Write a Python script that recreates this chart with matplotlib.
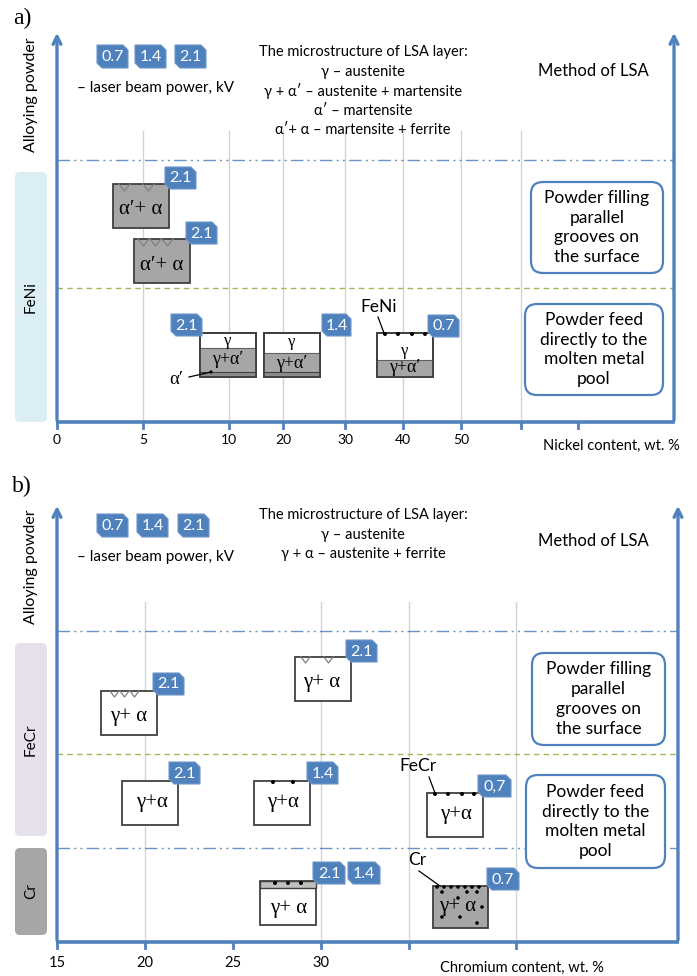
import matplotlib
matplotlib.use("Agg")
import matplotlib.pyplot as plt
from matplotlib.patches import Rectangle, Polygon, FancyBboxPatch, Circle

# ---------------- data ----------------
powers_legend = ["0.7", "1.4", "2.1"]
ni_tick_labels = ["0", "5", "10", "20", "30", "40", "50", "", ""]
cr_tick_labels = ["15", "20", "25", "30", "", ""]
micro_a = ["The microstructure of LSA layer:", "γ – austenite",
           "γ + α′ – austenite + martensite", "α′ – martensite",
           "α′+ α – martensite + ferrite"]
micro_b = ["The microstructure of LSA layer:", "γ – austenite",
           "γ + α – austenite + ferrite"]
method_boxes = ["Powder filling\nparallel\ngrooves on\nthe surface",
                "Powder feed\ndirectly to the\nmolten metal\npool"]
samples_a_phase = ["α′+ α", "α′+ α", "γ+α′", "γ+α′", "γ+α′"]
samples_a_power = ["2.1", "2.1", "2.1", "1.4", "0.7"]
samples_b_phase = ["γ+ α", "γ+ α", "γ+α", "γ+α", "γ+α", "γ+ α", "γ+ α"]
samples_b_power = ["2.1", "2.1", "2.1", "1.4", "0,7", "2.1", "0.7"]
extra_b_power = "1.4"

# ---------------- layout / style ----------------
BLUE = "#4F81BD"
GREEN = "#9BBB59"
GRAYF = "#A6A6A6"
EDGE = "#404040"
SANS = ["Lato", "DejaVu Sans"]
GREEK = ["Liberation Serif", "DejaVu Serif"]
MIX = ["Lato", "Liberation Serif", "DejaVu Sans"]

fig = plt.figure(figsize=(6.97, 9.76), dpi=100)
ax = fig.add_axes([0, 0, 1, 1])
ax.set_xlim(0, 697)
ax.set_ylim(976, 0)
ax.axis("off")


def badge(x0, y0, text, w=31, h=22):
    c = 5
    pts = [(x0, y0), (x0 + w - c, y0), (x0 + w, y0 + c), (x0 + w, y0 + h),
           (x0 + c, y0 + h), (x0, y0 + h - c)]
    ax.add_patch(Polygon(pts, closed=True, fc=BLUE, ec="#6F97CC", lw=0.8, zorder=6))
    ax.text(x0 + w / 2, y0 + h / 2 + 0.5, text, color="white", fontsize=11.5,
            family=SANS, ha="center", va="center", zorder=7)


def sbox(x0, y0, w=56, h=44, fc="white", zorder=4):
    ax.add_patch(Rectangle((x0, y0), w, h, fc=fc, ec=EDGE, lw=1.3, zorder=zorder))


def grooves(x0, y0, n, step=14, w=11, d=7):
    for i in range(n):
        xs = x0 + i * step
        ax.plot([xs, xs + w / 2, xs + w], [y0, y0 + d, y0], color="#808080", lw=0.9, zorder=5)


def dots(xs, y, r=2.0):
    for x in xs:
        ax.add_patch(Circle((x, y), r, fc="black", ec="none", zorder=6))


def method_box(x0, y0, x1, y1, text):
    ax.add_patch(FancyBboxPatch((x0, y0), x1 - x0, y1 - y0,
                                boxstyle="round,pad=0,rounding_size=12",
                                fc="white", ec=BLUE, lw=1.6, zorder=4))
    ax.text((x0 + x1) / 2, (y0 + y1) / 2, text, ha="center", va="center",
            fontsize=12.5, family=SANS, linespacing=1.3, zorder=5)


def frame(top, bottom, xl, xr, ticks, labels, grid_x, grid_top, lab_y, lab_fs):
    for gx in grid_x:
        ax.plot([gx, gx], [grid_top, bottom], color="#D3D3D3", lw=1.0, zorder=1)
    ax.annotate("", xy=(xl, top), xytext=(xl, bottom + 1),
                arrowprops=dict(arrowstyle="->", color=BLUE, lw=2.4, mutation_scale=14))
    ax.annotate("", xy=(xr, top), xytext=(xr, bottom + 1),
                arrowprops=dict(arrowstyle="->", color=BLUE, lw=2.4, mutation_scale=14))
    ax.plot([xl - 1, xr + 1], [bottom, bottom], color=BLUE, lw=2.6, zorder=3,
            solid_capstyle="butt")
    for tx, tl in zip(ticks, labels):
        ax.plot([tx, tx], [bottom, bottom + 6], color=BLUE, lw=2.0, zorder=3)
        if tl:
            ax.text(tx, lab_y, tl, ha="center", va="center", fontsize=lab_fs, family=SANS)


def hline(y, xl, xr, kind):
    if kind == "blue":
        ax.plot([xl, xr], [y, y], color=BLUE, lw=1.0, alpha=0.85,
                dashes=(9, 3, 1.5, 3, 1.5, 3), zorder=2)
    else:
        ax.plot([xl, xr], [y, y], color=GREEN, lw=1.0, dashes=(4, 3), zorder=2)


def side_label(x0, y0, y1, fc, text):
    ax.add_patch(FancyBboxPatch((x0, y0), 32, y1 - y0,
                                boxstyle="round,pad=0,rounding_size=5",
                                fc=fc, ec="none", zorder=1))
    ax.text(x0 + 16, (y0 + y1) / 2, text, rotation=90, ha="center", va="center",
            fontsize=11, family=SANS)


def header(y_badge, y_power, y_micro0, micro, y_method, xb):
    for p, x in zip(powers_legend, xb):
        badge(x, y_badge, p, w=31, h=23)
    ax.text(77, y_power, "– laser beam power, kV", ha="left", va="center",
            fontsize=11, family=SANS)
    for i, line in enumerate(micro):
        ax.text(363, y_micro0 + i * 19.6, line, ha="center", va="center",
                fontsize=10.5, family=MIX)
    ax.text(593, y_method, "Method of LSA", ha="center", va="center",
            fontsize=12, family=SANS)


# ================= panel a =================
ax.text(22, 18, "a)", fontsize=17, family=GREEK, ha="center", va="center")
ax.text(31, 95, "Alloying powder", rotation=90, ha="center", va="center",
        fontsize=11.5, family=SANS)
ni_ticks = [57, 143, 229, 283, 345, 403, 461, 521, 578]
frame(30, 422, 57, 674, ni_ticks, ni_tick_labels,
      [143, 229, 283, 345, 403, 461, 521], 131, 440, 10)
ax.text(543, 446, "Nickel content, wt. %", ha="left", va="center", fontsize=10.5, family=SANS)
hline(160, 57, 674, "blue")
hline(288, 57, 674, "green")
side_label(15, 172, 422, "#DAEEF3", "FeNi")
header(45, 88, 52, micro_a, 71, [97, 135, 175])
method_box(531, 182, 663, 273, method_boxes[0])
method_box(525, 304, 663, 395, method_boxes[1])

# sample 1
sbox(113, 184, fc=GRAYF)
grooves(119, 184, 2, step=24)
ax.text(141, 210, samples_a_phase[0], ha="center", va="center", fontsize=15, family=GREEK, zorder=6)
badge(165, 167, samples_a_power[0])
# sample 2
sbox(134, 239, fc=GRAYF)
grooves(138, 239, 3, step=12)
ax.text(162, 265, samples_a_phase[1], ha="center", va="center", fontsize=15, family=GREEK, zorder=6)
badge(186, 222, samples_a_power[1])
# sample 3
sbox(200, 333)
ax.add_patch(Rectangle((200, 348), 56, 29, fc=GRAYF, ec="none", zorder=5))
ax.add_patch(Rectangle((200, 372), 56, 5, fc="#8C8C8C", ec="none", zorder=5))
ax.plot([200, 256], [348, 348], color="#606060", lw=0.8, zorder=5)
ax.plot([200, 256], [372, 372], color="#404040", lw=0.8, zorder=5)
ax.add_patch(Rectangle((200, 333), 56, 44, fc="none", ec=EDGE, lw=1.3, zorder=6))
ax.text(228, 341, "γ", ha="center", va="center", fontsize=12, family=GREEK, zorder=7)
ax.text(228, 360, samples_a_phase[2], ha="center", va="center", fontsize=13, family=GREEK, zorder=7)
ax.text(176, 380, "α′", ha="center", va="center", fontsize=13.5, family=GREEK, zorder=7)
ax.plot([189, 211], [377, 372], color="black", lw=0.9, zorder=7)
ax.add_patch(Circle((211, 372), 1.6, fc="black", zorder=8))
badge(171, 314, samples_a_power[2])
# sample 4
sbox(264, 333)
ax.add_patch(Rectangle((264, 353), 56, 24, fc=GRAYF, ec="none", zorder=5))
ax.add_patch(Rectangle((264, 372), 56, 5, fc="#8C8C8C", ec="none", zorder=5))
ax.plot([264, 320], [353, 353], color="#606060", lw=0.8, zorder=5)
ax.plot([264, 320], [372, 372], color="#404040", lw=0.8, zorder=5)
ax.add_patch(Rectangle((264, 333), 56, 44, fc="none", ec=EDGE, lw=1.3, zorder=6))
ax.text(292, 342, "γ", ha="center", va="center", fontsize=12, family=GREEK, zorder=7)
ax.text(292, 363, samples_a_phase[3], ha="center", va="center", fontsize=13, family=GREEK, zorder=7)
badge(322, 314, samples_a_power[3], w=29)
# sample 5
sbox(377, 333)
ax.add_patch(Rectangle((377, 360), 56, 17, fc=GRAYF, ec="none", zorder=5))
ax.plot([377, 433], [360, 360], color="#606060", lw=0.8, zorder=5)
ax.add_patch(Rectangle((377, 333), 56, 44, fc="none", ec=EDGE, lw=1.3, zorder=6))
dots([385, 398, 412, 425], 334)
ax.text(405, 351, "γ", ha="center", va="center", fontsize=12, family=GREEK, zorder=7)
ax.text(405, 368, samples_a_phase[4], ha="center", va="center", fontsize=13, family=GREEK, zorder=7)
ax.text(379, 307, "FeNi", ha="center", va="center", fontsize=12.5, family=SANS, zorder=7)
ax.plot([378, 384], [317, 333], color="black", lw=0.9, zorder=7)
badge(428, 315, samples_a_power[4])

# ================= panel b =================
ax.text(22, 486, "b)", fontsize=17, family=GREEK, ha="center", va="center")
ax.text(31, 567, "Alloying powder", rotation=90, ha="center", va="center",
        fontsize=11.5, family=SANS)
cr_ticks = [57, 145, 233, 321, 409, 516]
frame(503, 942, 57, 678, cr_ticks, cr_tick_labels,
      [145, 321, 409, 516], 602, 963, 10.5)
ax.text(522, 968, "Chromium content, wt. %", ha="center", va="center",
        fontsize=10.5, family=SANS)
hline(631, 57, 678, "blue")
hline(754, 57, 678, "green")
hline(848, 57, 678, "blue")
side_label(15, 643, 836, "#E6E0EC", "FeCr")
side_label(15, 848, 935, GRAYF, "Cr")
header(514, 557, 515, micro_b, 541, [97, 137, 178])
method_box(532, 653, 665, 745, method_boxes[0])
method_box(526, 775, 665, 868, method_boxes[1])

# b1
sbox(101, 691)
grooves(110, 691, 3, step=10, w=9, d=6)
ax.text(129, 716, samples_b_phase[0], ha="center", va="center", fontsize=15, family=GREEK, zorder=6)
badge(153, 673, samples_b_power[0])
# b2
sbox(295, 657)
grooves(301, 657, 2, step=23, w=9, d=6)
ax.text(322, 682, samples_b_phase[1], ha="center", va="center", fontsize=15, family=GREEK, zorder=6)
badge(346, 640, samples_b_power[1])
# b3
sbox(122, 781)
ax.text(152, 803, samples_b_phase[2], ha="center", va="center", fontsize=15, family=GREEK, zorder=6)
badge(169, 762, samples_b_power[2])
# b4
sbox(254, 781)
dots([273, 293], 782)
ax.text(283, 803, samples_b_phase[3], ha="center", va="center", fontsize=15, family=GREEK, zorder=6)
badge(307, 762, samples_b_power[3])
# b5 FeCr
sbox(427, 793)
dots([435, 448, 462, 474], 794)
ax.text(456, 815, samples_b_phase[4], ha="center", va="center", fontsize=15, family=GREEK, zorder=6)
ax.text(418, 766, "FeCr", ha="center", va="center", fontsize=12.5, family=SANS, zorder=7)
ax.plot([429, 435], [777, 793], color="black", lw=0.9, zorder=7)
badge(478, 775, samples_b_power[4], w=33)
# b6 Cr
sbox(260, 881)
ax.add_patch(Rectangle((260, 881), 56, 7, fc="#BFBFBF", ec=EDGE, lw=1.0, zorder=5))
dots([275, 288, 301], 883)
ax.text(289, 908, samples_b_phase[5], ha="center", va="center", fontsize=15, family=GREEK, zorder=6)
badge(313, 862, samples_b_power[5], w=32)
badge(348, 862, extra_b_power, w=32)
# b7 Cr gray
sbox(433, 886, w=55, h=42, fc=GRAYF)
dots([437, 444, 451, 458, 465, 472, 479], 887, r=1.8)
for (dx, dy) in [(442, 892), (467, 892), (477, 892), (458, 898), (482, 907),
                 (442, 917), (460, 917), (477, 923)]:
    ax.add_patch(Circle((dx, dy), 1.8, fc="black", ec="none", zorder=7))
ax.text(458, 907, samples_b_phase[6], ha="center", va="center", fontsize=15, family=GREEK, zorder=6)
ax.text(417, 860, "Cr", ha="center", va="center", fontsize=12.5, family=SANS, zorder=7)
ax.plot([419, 440], [871, 886], color="black", lw=0.9, zorder=7)
badge(487, 868, samples_b_power[6], w=32)

fig.savefig("out.png", dpi=100)
